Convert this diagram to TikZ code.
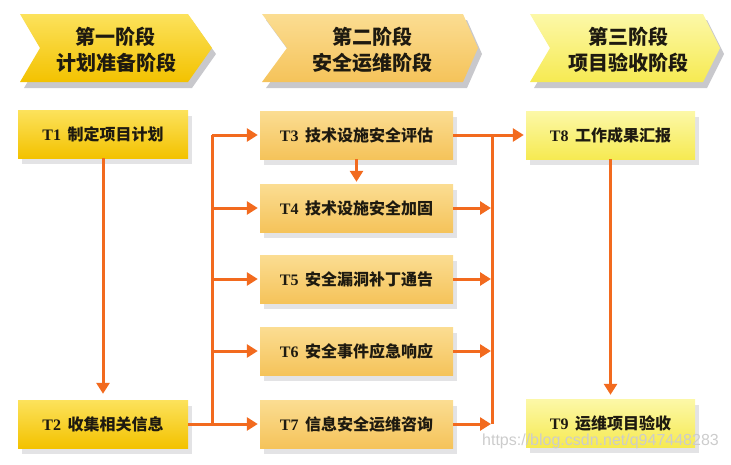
\documentclass[tikz,border=0pt]{standalone}
\usepackage{fontspec}
\setmainfont{Liberation Serif}
\newfontfamily\cjk{Noto Sans CJK SC}
\newfontfamily\wmfont{Liberation Sans}
\usetikzlibrary{arrows.meta,shadows}
\definecolor{orangeline}{HTML}{F26A1E}
\definecolor{goldT}{HTML}{FCE25C}
\definecolor{goldB}{HTML}{F3C200}
\definecolor{ambT}{HTML}{FBDD92}
\definecolor{ambB}{HTML}{F5C35A}
\definecolor{paleT}{HTML}{FCF8A8}
\definecolor{paleB}{HTML}{F6EA52}
\definecolor{txt}{HTML}{1E1A10}
\definecolor{shadowc}{HTML}{C8C8CC}
\newcommand\tlab[2]{{\rmfamily\bfseries #1}\hspace{0.4em}{\cjk\bfseries #2}}
\begin{document}
\begin{tikzpicture}[x=1pt,y=-1pt,
  box/.style={minimum height=48pt,inner sep=0pt,text=txt,
    font=\fontsize{16}{18}\selectfont,
    drop shadow={shadow xshift=4pt,shadow yshift=-6pt,fill=shadowc}},
  goldbox/.style={box,minimum width=170pt,top color=goldT,bottom color=goldB},
  ambbox/.style={box,minimum width=193pt,top color=ambT,bottom color=ambB},
  palebox/.style={box,minimum width=169pt,top color=paleT,bottom color=paleB},
  stagetxt/.style={align=center,text=txt,font=\cjk\bfseries\fontsize{20}{26}\selectfont},
  lin/.style={draw=orangeline,line width=3pt},
  arr/.style={lin,-{Triangle[length=11pt,width=13pt]}},
  stshadow/.style={fill=shadowc},
]
\useasboundingbox (0,0) rectangle (731,464);

% stage chevrons
\fill[stshadow] (24,20) -- (192,20) -- (216,54) -- (192,88) -- (24,88) -- (44,54) -- cycle;
\shade[top color=goldT,bottom color=goldB] (20,14) -- (188,14) -- (212,48) -- (188,82) -- (20,82) -- (40,48) -- cycle;
\node[stagetxt] (S1) at (116,50) {第一阶段\\计划准备阶段};

\fill[stshadow] (266,20) -- (467,20) -- (482,54) -- (467,88) -- (266,88) -- (291,54) -- cycle;
\shade[top color=ambT,bottom color=ambB] (262,14) -- (463,14) -- (478,48) -- (463,82) -- (262,82) -- (287,48) -- cycle;
\node[stagetxt] (S2) at (372,50) {第二阶段\\安全运维阶段};

\fill[stshadow] (534,20) -- (707,20) -- (724,54) -- (707,88) -- (534,88) -- (554,54) -- cycle;
\shade[top color=paleT,bottom color=paleB] (530,14) -- (703,14) -- (720,48) -- (703,82) -- (530,82) -- (550,48) -- cycle;
\node[stagetxt] (S3) at (628,50) {第三阶段\\项目验收阶段};

% boxes
\node[goldbox] (T1) at (103,134) {\tlab{T1}{制定项目计划}};
\node[goldbox] (T2) at (103,424) {\tlab{T2}{收集相关信息}};
\node[ambbox] (T3) at (356.5,135) {\tlab{T3}{技术设施安全评估}};
\node[ambbox] (T4) at (356.5,208) {\tlab{T4}{技术设施安全加固}};
\node[ambbox] (T5) at (356.5,279) {\tlab{T5}{安全漏洞补丁通告}};
\node[ambbox] (T6) at (356.5,351) {\tlab{T6}{安全事件应急响应}};
\node[ambbox] (T7) at (356.5,424) {\tlab{T7}{信息安全运维咨询}};
\node[palebox] (T8) at (610.5,135) {\tlab{T8}{工作成果汇报}};
\node[palebox] (T9) at (610.5,423) {\tlab{T9}{运维项目验收}};

% connectors
\draw[arr,shorten >=6pt] (T1.south) -- (T2.north);
\coordinate (L) at (212,424);
\draw[lin] (T2.east) -- (L);
\draw[lin] (L) -- (L |- T3.west);
\draw[arr,shorten >=2pt] (L) -- (T7.west);
\draw[arr,shorten >=2pt] (L |- T3.west) -- (T3.west);
\draw[arr,shorten >=2pt] (L |- T4.west) -- (T4.west);
\draw[arr,shorten >=2pt] (L |- T5.west) -- (T5.west);
\draw[arr,shorten >=2pt] (L |- T6.west) -- (T6.west);
\draw[arr,shorten >=2pt] (T3.south) -- (T4.north);

\coordinate (R) at (492,135);
\draw[lin] (R) -- (R |- T7.east);
\draw[arr,shorten >=2pt] (T3.east) -- (T8.west);
\draw[arr,shorten >=1pt] (T4.east) -- (R |- T4.east);
\draw[arr,shorten >=1pt] (T5.east) -- (R |- T5.east);
\draw[arr,shorten >=1pt] (T6.east) -- (R |- T6.east);
\draw[arr,shorten >=1pt] (T7.east) -- (R |- T7.east);
\draw[arr,shorten >=4pt] (T8.south) -- (T9.north);

% watermark
\node[anchor=west,inner sep=0pt,text=black!20,font=\wmfont\fontsize{16}{18}\selectfont] (wm) at (482,441) {https://blog.csdn.net/q947448283};
\end{tikzpicture}
\end{document}
